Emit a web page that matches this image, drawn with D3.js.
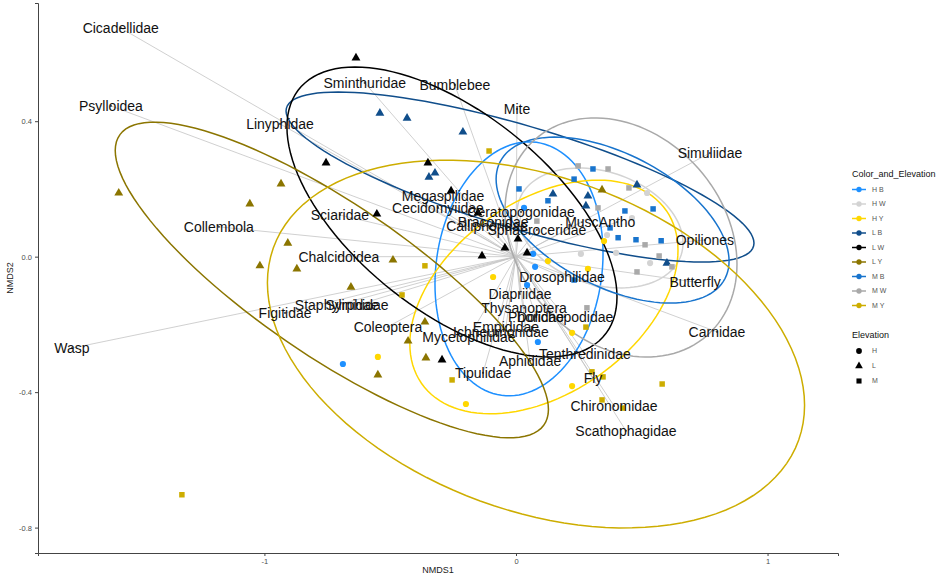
<!DOCTYPE html>
<html><head><meta charset="utf-8">
<script src="https://cdn.jsdelivr.net/npm/d3@7"></script>
<style>body{margin:0;background:#fff} svg{display:block;font-family:"Liberation Sans",Arial,sans-serif}</style>
</head><body><svg id="c" width="938" height="578"></svg>
<script>
// ---------- DATA ----------
const groups = ["H B","H W","H Y","L B","L W","L Y","M B","M W","M Y"];
const groupColors = ["#1E90FF","#D3D3D3","#FFD700","#104E8B","#000000","#8B7500","#1874CD","#A9A9A9","#CDAD00"];
const elevations = ["H","L","M"];
const groupElevation = ["H","H","H","L","L","L","M","M","M"];

// site scores [NMDS1, NMDS2] per group
const ptsHB = [[-0.688,-0.317],[0.032,0.144],[0.068,0.008],[0.076,-0.030],[0.044,-0.084],[0.087,-0.252]];
const ptsHW = [[0.521,0.188],[0.362,0.064],[0.258,0.008],[0.398,0.011],[0.533,-0.019],[0.461,0.114]];
const ptsHY = [[-0.549,-0.296],[-0.199,-0.435],[-0.091,-0.060],[0.127,-0.013],[0.350,0.046],[0.286,-0.036],[0.223,-0.225],[0.223,-0.382]];
const ptsLB = [[-0.541,0.424],[-0.433,0.409],[-0.211,0.368],[-0.346,0.235],[-0.322,0.247],[0.147,0.185],[0.286,0.179],[0.278,0.150],[0.481,0.212],[0.600,-0.019]];
const ptsLW = [[-0.636,0.587],[-0.755,0.277],[-0.350,0.277],[-0.553,0.126],[-0.258,0.194],[-0.151,0.129],[0.008,0.052],[-0.044,0.026],[-0.135,0.002],[0.044,0.011],[-0.294,-0.305]];
const ptsLY = [[-1.579,0.188],[-0.934,0.215],[-1.058,0.156],[-0.907,0.040],[-1.018,-0.027],[-0.871,-0.036],[-0.489,-0.010],[-0.656,-0.090],[-0.362,-0.193],[-0.429,-0.249],[-0.358,-0.299],[-0.549,-0.349],[0.342,0.197]];
const ptsMB = [[0.012,0.200],[0.127,0.165],[0.231,0.229],[0.306,0.259],[0.433,0.135],[0.374,0.085],[0.406,0.056],[0.477,0.050],[0.577,0.047],[0.545,0.141],[0.231,-0.069]];
const ptsMW = [[0.247,0.268],[0.366,0.259],[0.449,0.203],[0.326,0.144],[0.513,0.035],[0.569,0.002],[0.481,-0.045],[0.620,-0.030],[0.083,0.105],[0.282,-0.151]];
const ptsMY = [[-0.107,0.312],[-0.362,-0.027],[-0.453,-0.113],[-0.254,-0.364],[0.346,-0.355],[0.342,-0.423],[0.425,-0.447],[0.581,-0.376],[0.302,-0.340],[-1.328,-0.703],[0.278,-0.208]];
const groupPoints = [ptsHB,ptsHW,ptsHY,ptsLB,ptsLW,ptsLY,ptsMB,ptsMW,ptsMY];

// ellipse (centre, half-extent x, half-extent y, correlation) per group
const ellCX  = [0.012, 0.334, 0.111, 0.016, -0.2545, -0.732, 0.384, 0.4175, 0.0795];
const ellCY  = [-0.036, 0.0847, -0.119, 0.235, 0.132, -0.0688, 0.108, 0.0567, -0.258];
const ellRX  = [0.334, 0.330, 0.533, 0.930, 0.656, 0.861, 0.463, 0.461, 1.0676];
const ellRY  = [0.375, 0.177, 0.345, 0.251, 0.428, 0.466, 0.245, 0.353, 0.543];
const ellR   = [0.12, -0.25, 0.4, -0.777, -0.586, -0.82, -0.494, -0.224, -0.333];

// species vectors
const speciesNames = ["Cicadellidae","Psylloidea","Linyphidae","Collembola","Chalcidoidea","Sciaridae","Sminthuridae","Bumblebee","Mite","Megaspilidae","Cecidomyiidae","Ceratopogonidae","Braconidae","Calliphoridae","Sphaeroceridae","Musc","Antho","Simuliidae","Opiliones","Butterfly","Carnidae","Drosophilidae","Diapriidae","Thysanoptera","Phoridae","Dolichopodidae","Empididae","Ichneumonidae","Mycetophilidae","Aphididae","Tipulidae","Tenthredinidae","Fly","Chironomidae","Scathophagidae","Coleoptera","Staphylinidae","Syrphidae","Figitidae","Wasp"];
const speciesX = [-1.571,-1.610,-0.938,-1.181,-0.704,-0.700,-0.601,-0.243,0.004,-0.290,-0.310,0.020,-0.091,-0.115,0.083,0.262,0.402,0.771,0.751,0.712,0.799,0.183,0.016,0.032,0.080,0.195,-0.040,-0.060,-0.187,0.056,-0.131,0.274,0.306,0.390,0.437,-0.509,-0.712,-0.632,-0.918,-1.765];
const speciesY = [0.675,0.445,0.392,0.088,0.000,0.123,0.513,0.507,0.436,0.179,0.144,0.132,0.102,0.091,0.079,0.102,0.102,0.306,0.049,-0.075,-0.222,-0.060,-0.110,-0.151,-0.178,-0.178,-0.207,-0.222,-0.237,-0.308,-0.343,-0.287,-0.358,-0.441,-0.514,-0.207,-0.143,-0.143,-0.166,-0.270];

const xTicks = [-1, 0, 1];
const yTicks = [-0.8, -0.4, 0.0, 0.4];

// ---------- DRAW ----------
const svg = d3.select("#c");
const P = {l:38, r:838, t:3, b:553};
const x = d3.scaleLinear().domain([-1.9, 1.28]).range([P.l, P.r]);
const y = d3.scaleLinear().domain([-0.875, 0.749]).range([P.b, P.t]);
const shapeOf = {H: d3.symbolCircle, L: d3.symbolTriangle, M: d3.symbolSquare};
const sizeOf = {H: 30, L: 34, M: 30};

// vectors
const vec = svg.append("g");
speciesNames.forEach((n,i)=>{
  vec.append("line").attr("x1",x(0)).attr("y1",y(0))
    .attr("x2",x(speciesX[i])).attr("y2",y(speciesY[i]))
    .attr("stroke","#c4c4c4").attr("stroke-width",0.8);
  vec.append("circle").attr("cx",x(speciesX[i])).attr("cy",y(speciesY[i])).attr("r",1.1).attr("fill","#555");
});

// ellipses
const line = d3.line().x(d=>x(d[0])).y(d=>y(d[1])).curve(d3.curveLinearClosed);
const ts = d3.range(0, 2*Math.PI, Math.PI/60);
groups.forEach((g,i)=>{
  const r = ellR[i], s = Math.sqrt(1-r*r);
  const pts = ts.map(t=>[ellCX[i]+ellRX[i]*Math.cos(t), ellCY[i]+ellRY[i]*(r*Math.cos(t)+s*Math.sin(t))]);
  svg.append("path").attr("d",line(pts)).attr("fill","none")
    .attr("stroke",groupColors[i]).attr("stroke-width",1.5);
});

// points
groups.forEach((g,i)=>{
  const e = groupElevation[i];
  svg.append("g").selectAll("path").data(groupPoints[i]).join("path")
    .attr("d", d3.symbol().type(shapeOf[e]).size(sizeOf[e]))
    .attr("transform", d=>`translate(${x(d[0])},${y(d[1])})`)
    .attr("fill", groupColors[i]);
});

// labels
svg.append("g").selectAll("text").data(speciesNames).join("text")
  .attr("x",(d,i)=>x(speciesX[i])).attr("y",(d,i)=>y(speciesY[i]))
  .attr("text-anchor","middle").attr("dy","0.35em")
  .attr("font-size",14).attr("fill","#111").text(d=>d);

// axes
const ax = svg.append("g").attr("transform",`translate(0,${P.b})`)
  .call(d3.axisBottom(x).tickValues(xTicks).tickSize(3).tickFormat(d=>String(d)));
const ay = svg.append("g").attr("transform",`translate(${P.l},0)`)
  .call(d3.axisLeft(y).tickValues(yTicks).tickSize(3).tickFormat(d=>d.toFixed(1)));
[ax,ay].forEach(a=>{
  a.select(".domain").attr("stroke","#444").attr("stroke-width",1);
  a.selectAll(".tick line").attr("stroke","#444");
  a.selectAll(".tick text").attr("fill","#4D4D4D").attr("font-size",7.5).attr("font-family","Liberation Sans, Arial");
});
svg.append("text").attr("x",(P.l+P.r)/2).attr("y",573).attr("text-anchor","middle")
  .attr("font-size",9).attr("fill","#222").text("NMDS1");
svg.append("text").attr("transform",`translate(13,${(P.t+P.b)/2}) rotate(-90)`).attr("text-anchor","middle")
  .attr("font-size",9).attr("fill","#222").text("NMDS2");

// legend
const lg = svg.append("g");
lg.append("text").attr("x",852).attr("y",177).attr("font-size",9).attr("fill","#111").text("Color_and_Elevation");
groups.forEach((g,i)=>{
  const yy = 189.5 + i*14.5;
  lg.append("line").attr("x1",852).attr("x2",866).attr("y1",yy).attr("y2",yy).attr("stroke",groupColors[i]).attr("stroke-width",1.5);
  lg.append("path").attr("d",d3.symbol().type(d3.symbolCircle).size(22)()).attr("transform",`translate(859,${yy})`).attr("fill",groupColors[i]);
  lg.append("text").attr("x",872).attr("y",yy).attr("dy","0.35em").attr("font-size",7).attr("fill","#555").text(g);
});
lg.append("text").attr("x",852).attr("y",338).attr("font-size",9).attr("fill","#111").text("Elevation");
elevations.forEach((e,i)=>{
  const yy = 351 + i*15;
  lg.append("path").attr("d",d3.symbol().type(shapeOf[e]).size(26)()).attr("transform",`translate(859,${yy})`).attr("fill","#000");
  lg.append("text").attr("x",872).attr("y",yy).attr("dy","0.35em").attr("font-size",7).attr("fill","#555").text(e);
});
</script></body></html>
